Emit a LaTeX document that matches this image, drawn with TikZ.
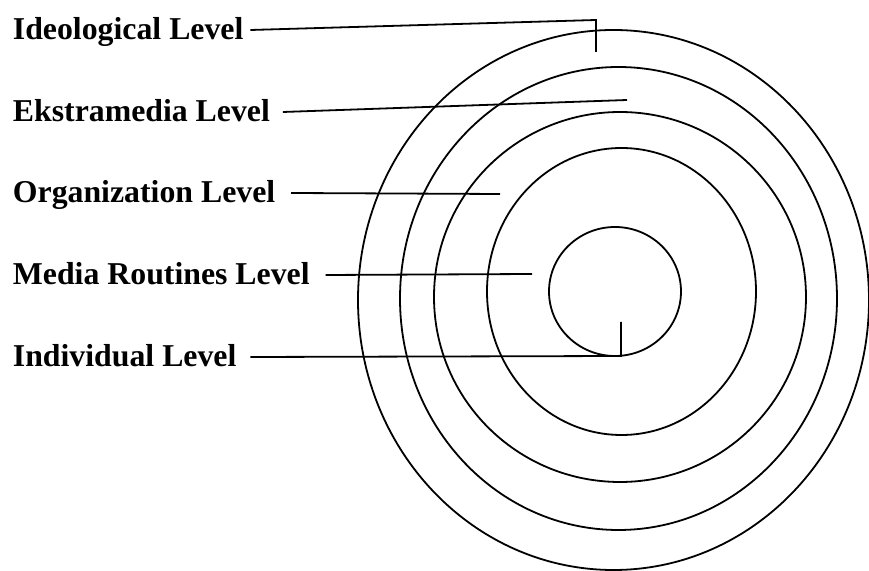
\documentclass[tikz,border=0pt]{standalone}
\usepackage{fontspec}
\setmainfont{Liberation Serif}
\usetikzlibrary{positioning}

\begin{document}
\begin{tikzpicture}[x=0.5pt, y=-0.5pt, line width=0.9pt,
  level/.style={font=\fontsize{15.9}{19}\bfseries\selectfont, anchor=base west,
    inner sep=0pt, text height=10pt, text depth=0pt},
  ring/.style={line width=0.9pt},
  leader/.style={line width=0.9pt}]

\useasboundingbox (0,0) rectangle (869,571);

% Rings, outer to inner
\draw[ring] (613.5,300) ellipse (255.5 and 270);
\draw[ring] (618.5,298.5) ellipse (218.5 and 231.5);
\draw[ring] (620,297) ellipse (186 and 185);
\draw[ring] (621.5,291.5) ellipse (134.5 and 143.5);
\draw[ring] (615,291.5) ellipse (66 and 64.5);

% Labels
\node[level] (ideo) at (12,40) {Ideological Level};
\node[level] (ekstra) at (12,122) {Ekstramedia Level};
\node[level] (org) at (12,203) {Organization Level};
\node[level] (media) at (12,285) {Media Routines Level};
\node[level] (indiv) at (12,367) {Individual Level};

% Leader ends
\coordinate (ideoBend) at (596,20);
\coordinate (ideoEnd) at (596,52);
\coordinate (ekstraEnd) at (627,100);
\coordinate (orgEnd) at (500,194);
\coordinate (mediaEnd) at (532,274);
\coordinate (indivBend) at (621,356);
\coordinate (indivEnd) at (621,322);

% Leaders
\draw[leader] ([xshift=3pt]ideo.east) -- (ideoBend) -- (ideoEnd);
\draw[leader] ([xshift=6pt]ekstra.east) -- (ekstraEnd);
\draw[leader] ([xshift=7.5pt]org.east) -- (orgEnd);
\draw[leader] ([xshift=7.5pt]media.east) -- (mediaEnd);
\draw[leader] ([xshift=6.5pt]indiv.east) -- (indivBend) -- (indivEnd);

\end{tikzpicture}
\end{document}
